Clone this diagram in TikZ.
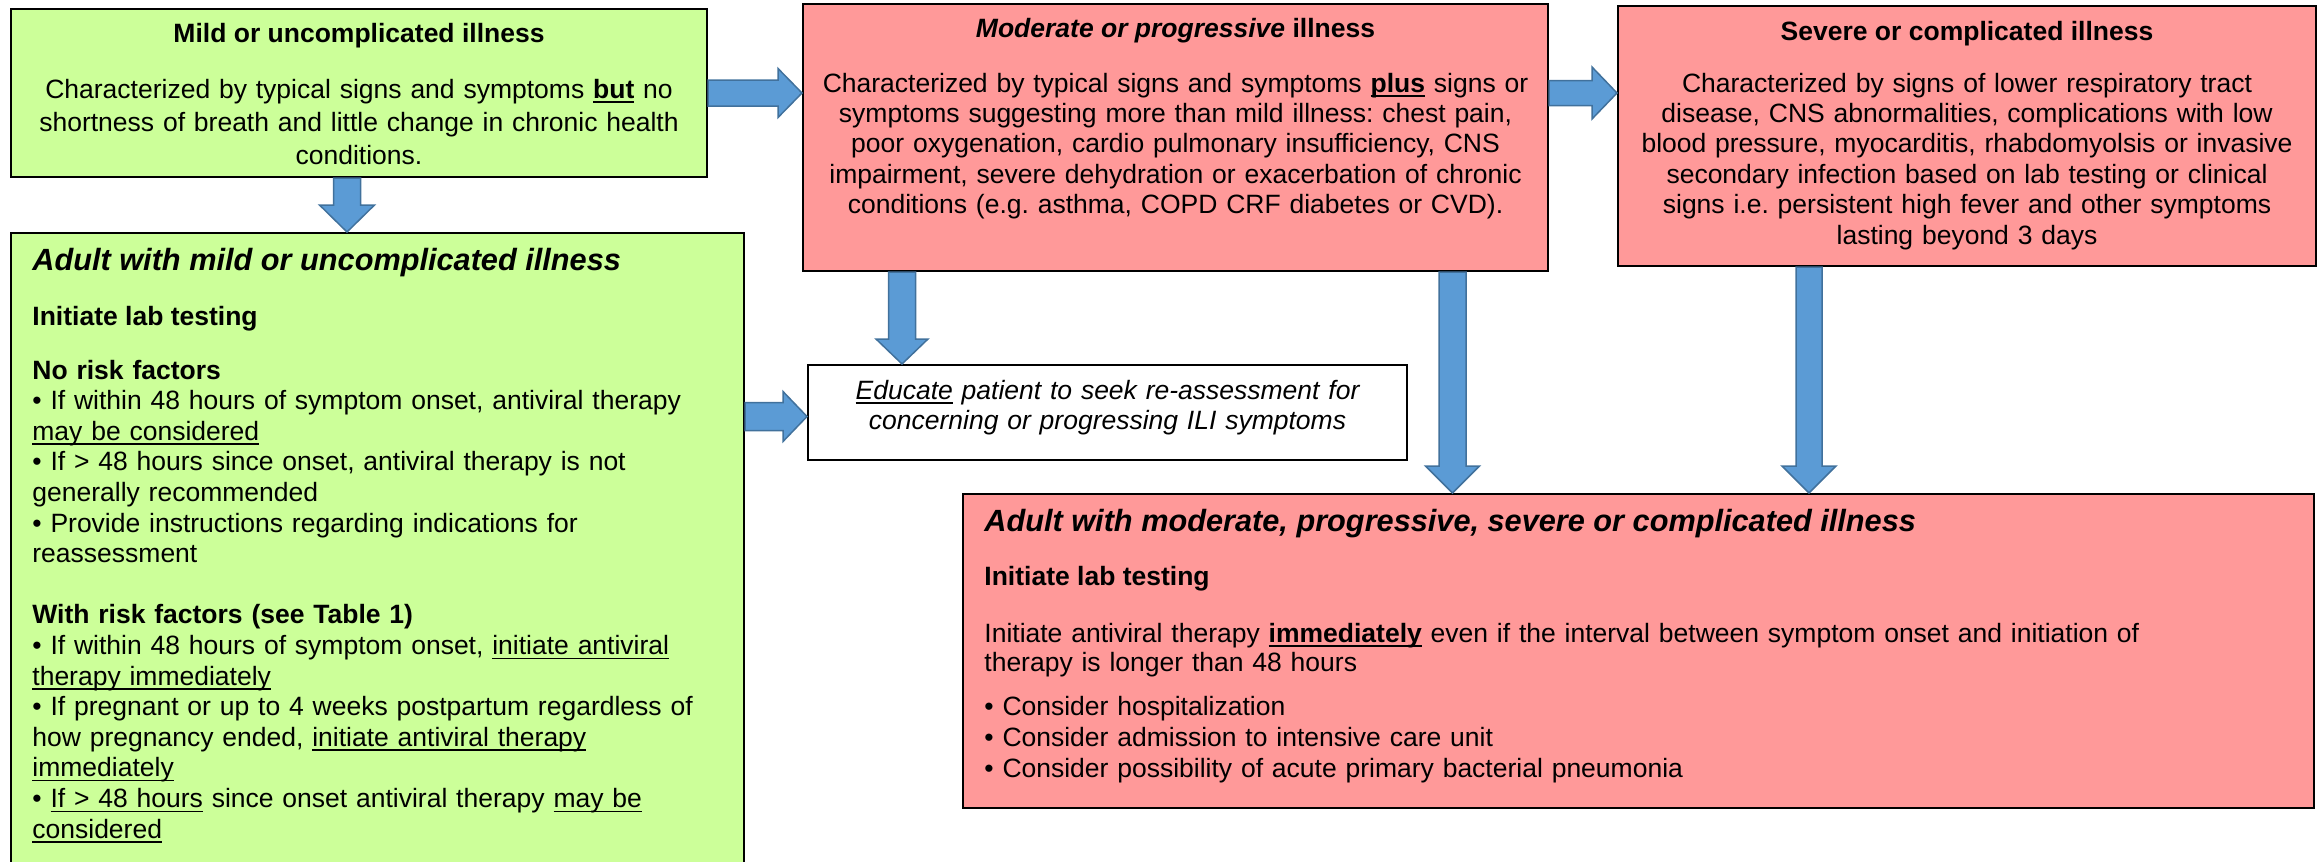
\documentclass[tikz,border=0pt]{standalone}
\usepackage{fontspec}
\setmainfont{Liberation Sans}
\usetikzlibrary{calc,fit}
\definecolor{greenfill}{HTML}{CCFF99}
\definecolor{pinkfill}{HTML}{FF9999}
\definecolor{arrowfill}{HTML}{5B9BD5}
\definecolor{arrowline}{HTML}{41719C}
\frenchspacing
\newsavebox{\myulbox}
\newcommand{\myul}[1]{\leavevmode\sbox{\myulbox}{#1}\rlap{\rule[-2.3pt]{\wd\myulbox}{0.75pt}}\usebox{\myulbox}}
% right-pointing block arrow: #1 start, #2 tip, #3 shaft half width, #4 head half width, #5 head length
\newcommand{\myrarrow}[5]{%
  \draw[blockarrow] ($(#1)+(0,-#3)$) -- ($(#2)+(-#5,-#3)$) -- ($(#2)+(-#5,-#4)$) -- (#2)
    -- ($(#2)+(-#5,#4)$) -- ($(#2)+(-#5,#3)$) -- ($(#1)+(0,#3)$) -- cycle;}
% down-pointing block arrow
\newcommand{\mydarrow}[5]{%
  \draw[blockarrow] ($(#1)+(-#3,0)$) -- ($(#2)+(-#3,-#5)$) -- ($(#2)+(-#4,-#5)$) -- (#2)
    -- ($(#2)+(#4,-#5)$) -- ($(#2)+(#3,-#5)$) -- ($(#1)+(#3,0)$) -- cycle;}
\begin{document}
\begin{tikzpicture}[x=0.5pt,y=-0.5pt,
  box/.style={draw=black, line width=1pt, inner sep=0pt},
  greenbox/.style={box, fill=greenfill},
  pinkbox/.style={box, fill=pinkfill},
  whitebox/.style={box, fill=white},
  blockarrow/.style={fill=arrowfill, draw=arrowline, line width=0.75pt, line join=miter},
  txt/.style={inner sep=0pt, font=\fontsize{13.25pt}{15.3pt}\selectfont},
  ctr/.style={txt, anchor=base, align=center},
  lft/.style={txt, anchor=base west, align=left},
  bigtitle/.style={lft, font=\fontsize{15.35pt}{18pt}\selectfont\bfseries\itshape}]
\useasboundingbox (0,0) rectangle (2319,862);
\clip (0,0) rectangle (2319,862);

% boxes
\node[greenbox, fit={(11,9) (707,177)}] (mild) {};
\node[pinkbox, fit={(803,4) (1548,271)}] (moderate) {};
\node[pinkbox, fit={(1618,6) (2316,266)}] (severe) {};
\node[greenbox, fit={(11,233) (744,900)}] (adultmild) {};
\node[whitebox, fit={(808,365) (1407,460)}] (educate) {};
\node[pinkbox, fit={(963,494) (2314,808)}] (adultsevere) {};

% arrows
\coordinate (a1s) at (mild.east);
\coordinate (a1t) at (mild.east -| moderate.west);
\myrarrow{a1s}{a1t}{13}{24.5}{24}
\coordinate (a2s) at (moderate.east |- mild.east);
\coordinate (a2t) at (mild.east -| severe.west);
\myrarrow{a2s}{a2t}{12.5}{26}{25}
\coordinate (a3s) at ($(mild.south)+(-12,0)$);
\coordinate (a3t) at (a3s |- adultmild.north);
\mydarrow{a3s}{a3t}{13.5}{27.5}{27}
\coordinate (a4s) at ($(moderate.south west)+(100,0)$);
\coordinate (a4t) at (a4s |- educate.north);
\mydarrow{a4s}{a4t}{13.5}{26}{25}
\coordinate (a5t) at ($(educate.west)+(0,4)$);
\coordinate (a5s) at (a5t -| adultmild.east);
\myrarrow{a5s}{a5t}{14}{25}{24}
\coordinate (a6s) at ($(moderate.south east)+(-96.5,0)$);
\coordinate (a6t) at (a6s |- adultsevere.north);
\mydarrow{a6s}{a6t}{13.5}{27}{27}
\coordinate (a7s) at ($(severe.south west)+(192,0)$);
\coordinate (a7t) at (a7s |- adultsevere.north);
\mydarrow{a7s}{a7t}{13}{27}{27}

% texts: mild
\node[ctr] (mildT) at (359,42) {\textbf{Mild or uncomplicated illness}};
\node[ctr, text width=344pt, font=\fontsize{13.25pt}{16.5pt}\selectfont] (mildB) at (359,98)
  {Characterized by typical signs and symptoms \textbf{\myul{but}} no\\
   shortness of breath and little change in chronic health\\
   conditions.};

% moderate
\node[ctr] (modT) at (1175.5,38) {\textbf{\textit{Moderate or progressive} illness}};
\node[ctr, text width=366pt, font=\fontsize{13.25pt}{15.2pt}\selectfont] (modB) at (1175.5,92)
  {Characterized by typical signs and symptoms \textbf{\myul{plus}} signs or\\
   symptoms suggesting more than mild illness: chest pain,\\
   poor oxygenation, cardio pulmonary insufficiency, CNS\\
   impairment, severe dehydration or exacerbation of chronic\\
   conditions (e.g. asthma, COPD CRF diabetes or CVD).};

% severe
\node[ctr] (sevT) at (1967,40) {\textbf{Severe or complicated illness}};
\node[ctr, text width=344pt, font=\fontsize{13.25pt}{15.2pt}\selectfont] (sevB) at (1967,92)
  {Characterized by signs of lower respiratory tract\\
   disease, CNS abnormalities, complications with low\\
   blood pressure, myocarditis, rhabdomyolsis or invasive\\
   secondary infection based on lab testing or clinical\\
   signs i.e. persistent high fever and other symptoms\\
   lasting beyond 3 days};

% adult mild
\node[bigtitle] (amT) at (32,270) {Adult with mild or uncomplicated illness};
\node[lft] (amH) at (32,325) {\textbf{Initiate lab testing}};
\node[lft, text width=352pt] (amL) at (32,379)
  {\textbf{No risk factors}\\
   • If within 48 hours of symptom onset, antiviral therapy\\
   \myul{may be considered}\\
   • If > 48 hours since onset, antiviral therapy is not\\
   generally recommended\\
   • Provide instructions regarding indications for\\
   reassessment\\[15.3pt]
   \textbf{With risk factors (see Table 1)}\\
   • If within 48 hours of symptom onset, \myul{initiate antiviral}\\
   \myul{therapy immediately}\\
   • If pregnant or up to 4 weeks postpartum regardless of\\
   how pregnancy ended, \myul{initiate antiviral therapy}\\
   \myul{immediately}\\
   • \myul{If > 48 hours} since onset antiviral therapy \myul{may be}\\
   \myul{considered}};

% educate
\node[ctr, text width=290pt, font=\fontsize{13.25pt}{15pt}\selectfont\itshape] (eduB) at (1107.5,399)
  {\myul{Educate} patient to seek re-assessment for\\
   concerning or progressing ILI symptoms};

% adult severe
\node[bigtitle] (asT) at (984,531) {Adult with moderate, progressive, severe or complicated illness};
\node[lft] (asH) at (984,585) {\textbf{Initiate lab testing}};
\node[lft, text width=640pt, font=\fontsize{13.25pt}{14.5pt}\selectfont] (asB) at (984,642)
  {Initiate antiviral therapy \textbf{\myul{immediately}} even if the interval between symptom onset and initiation of\\
   therapy is longer than 48 hours};
\node[lft, text width=640pt, font=\fontsize{13.25pt}{15.5pt}\selectfont] (asL) at (984,715)
  {• Consider hospitalization\\
   • Consider admission to intensive care unit\\
   • Consider possibility of acute primary bacterial pneumonia};
\end{tikzpicture}
\end{document}
